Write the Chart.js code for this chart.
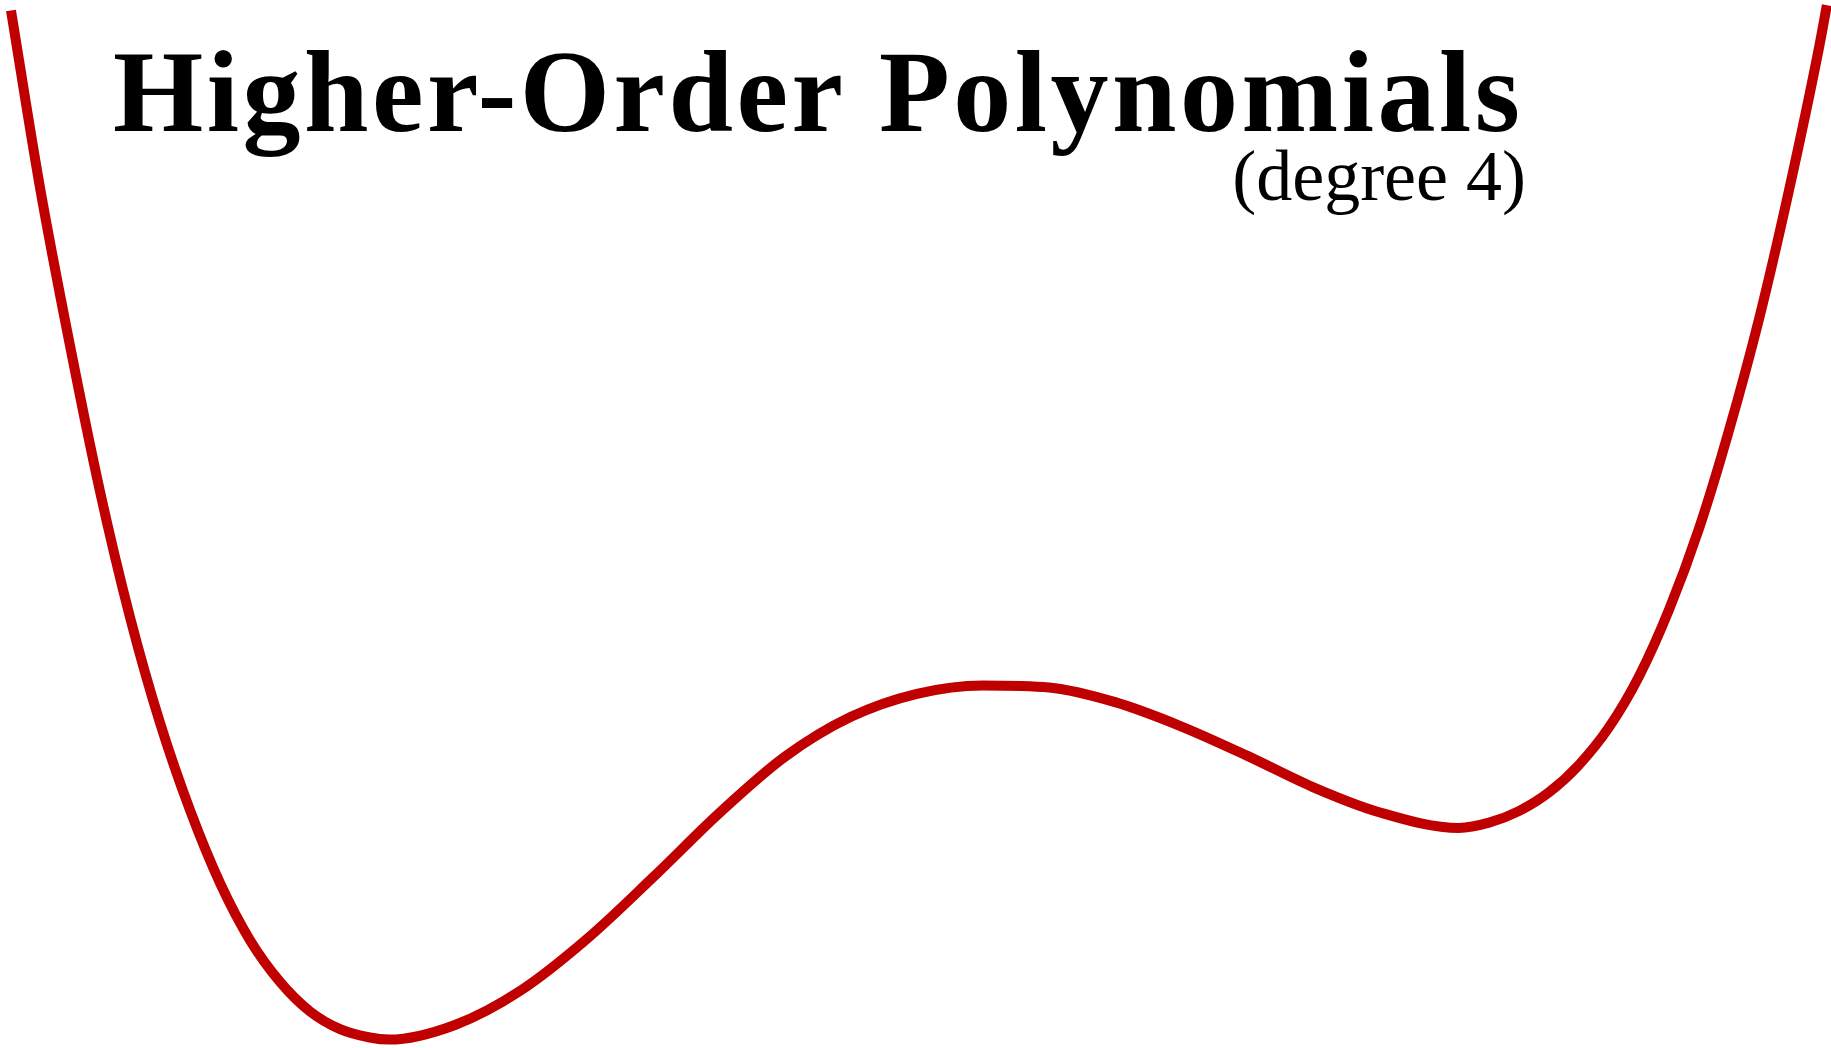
<!DOCTYPE html>
<html>
<head>
<meta charset="utf-8">
<title>Higher-Order Polynomials</title>
<script src="https://cdn.jsdelivr.net/npm/chart.js@4/dist/chart.umd.min.js"></script>
<style>
  html, body { margin: 0; padding: 0; background: #fff; }
  #grafico { display: block; }
</style>
</head>
<body>
<canvas id="grafico" width="1831" height="1048"></canvas>
<script>
// points (x from -2 to 2, y from 0 to 10)
let polyX = [-1.976, -1.913, -1.847, -1.782, -1.716, -1.651, -1.585, -1.519, -1.454, -1.388,
             -1.323, -1.257, -1.192, -1.150,
             -1.006, -0.862, -0.718, -0.573, -0.429, -0.285, -0.141,  0.003,  0.147,  0.292,
              0.436,  0.580,  0.724,  0.868,  1.013,  1.187,
              1.253,  1.318,  1.384,  1.449,  1.515,  1.581,  1.646,  1.712,  1.777,  1.843,
              1.908,  1.974,  1.991];
let polyY = [9.90, 8.22, 6.70, 5.32, 4.11, 3.11, 2.27, 1.57, 1.03, 0.63,
             0.35, 0.18, 0.10, 0.08,
             0.22, 0.55, 1.04, 1.63, 2.24, 2.78, 3.16, 3.38, 3.46, 3.44,
             3.30, 3.07, 2.79, 2.49, 2.25, 2.10,
             2.15, 2.26, 2.44, 2.70, 3.06, 3.55, 4.18, 4.96, 5.89, 6.96,
             8.18, 9.55, 9.95];

let titulo = "Higher-Order Polynomials";
let subtitulo = "(degree 4)";

let pontos = polyX.map((x, i) => { return {x: x, y: polyY[i]} });

// title and subtitle sit on top of the plot area, so draw them by hand
const textos = {
    id: 'textos',
    afterDraw(chart) {
        const ctx = chart.ctx;
        ctx.save();
        ctx.fillStyle = '#000';
        ctx.textBaseline = 'alphabetic';
        ctx.textAlign = 'left';
        ctx.font = 'bold 116px "Liberation Serif", serif';
        ctx.letterSpacing = '3.5px';
        ctx.fillText(titulo, 113, 131);
        ctx.letterSpacing = '0px';
        ctx.textAlign = 'right';
        ctx.font = '72px "Liberation Serif", serif';
        ctx.fillText(subtitulo, 1526, 200);
        ctx.restore();
    }
};

var ctx = document.getElementById('grafico').getContext('2d');
var chart = new Chart(ctx, {
    type: 'scatter',
    data: {
        datasets: [{
            label: titulo,
            data: pontos,
            showLine: true,
            borderColor: '#c00000',
            backgroundColor: '#c00000',
            borderWidth: 10,
            pointRadius: 0,
            cubicInterpolationMode: 'monotone'
        }]
    },
    options: {
        responsive: false,
        animation: false,
        devicePixelRatio: 1,
        layout: { padding: 0 },
        scales: {
            x: { type: 'linear', min: -2, max: 2, display: false },
            y: { type: 'linear', min: 0, max: 10, display: false }
        },
        plugins: {
            legend: { display: false },
            tooltip: { enabled: false },
            title: { display: false }
        }
    },
    plugins: [textos]
});
</script>
</body>
</html>
